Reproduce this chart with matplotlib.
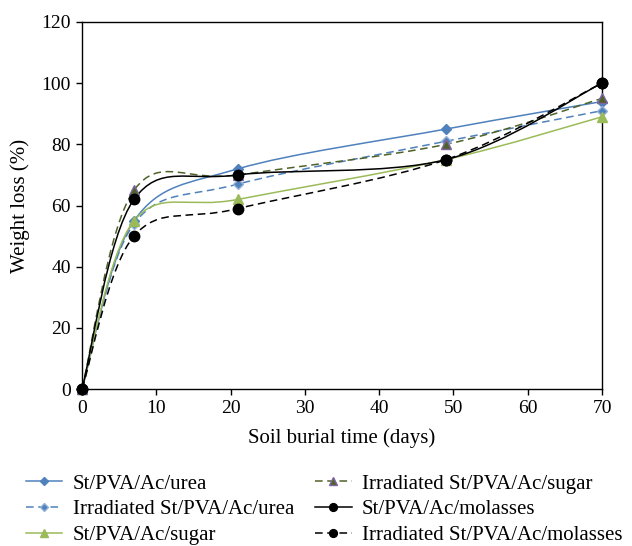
import matplotlib
matplotlib.use("Agg")
import matplotlib.pyplot as plt
from matplotlib.path import Path
from matplotlib.patches import PathPatch
from matplotlib.lines import Line2D

# Data
days = [0, 7, 21, 49, 70]
urea = [0, 55, 72, 85, 94]
irr_urea = [0, 54, 67, 81, 91]
sugar = [0, 55, 62, 75, 89]
irr_sugar = [0, 65, 70, 80, 95]
molasses = [0, 62, 70, 75, 100]
irr_molasses = [0, 50, 59, 75, 100]

labels = [
    "St/PVA/Ac/urea",
    "Irradiated St/PVA/Ac/urea",
    "St/PVA/Ac/sugar",
    "Irradiated St/PVA/Ac/sugar",
    "St/PVA/Ac/molasses",
    "Irradiated St/PVA/Ac/molasses",
]
series = [urea, irr_urea, sugar, irr_sugar, molasses, irr_molasses]

BLUE = "#4F81BD"
GREEN = "#9BBB59"
OLIVE = "#4F6228"
PURPLE = "#8064A2"
DASH = (0, (5, 3))

styles = [
    dict(color=BLUE, ls="-", marker="D", ms=5.5, mfc=BLUE, mec=BLUE),
    dict(color=BLUE, ls=DASH, marker="D", ms=5.5, mfc=BLUE, mec="#95B3D7"),
    dict(color=GREEN, ls="-", marker="^", ms=7.5, mfc=GREEN, mec=GREEN),
    dict(color=OLIVE, ls=DASH, marker="^", ms=7.5, mfc=OLIVE, mec=PURPLE),
    dict(color="black", ls="-", marker="o", ms=7.5, mfc="black", mec="black"),
    dict(color="black", ls=DASH, marker="o", ms=7.5, mfc="black", mec="black"),
]


def smooth_path(xs, ys, k=1 / 6):
    # Excel-style smoothed line: cubic Bezier segments with Catmull-Rom control points
    pts = list(zip(xs, ys))
    n = len(pts)
    verts = [pts[0]]
    codes = [Path.MOVETO]
    for i in range(n - 1):
        p0 = pts[i - 1] if i > 0 else pts[i]
        p1 = pts[i]
        p2 = pts[i + 1]
        p3 = pts[i + 2] if i + 2 < n else pts[i + 1]
        c1 = (p1[0] + (p2[0] - p0[0]) * k, p1[1] + (p2[1] - p0[1]) * k)
        c2 = (p2[0] - (p3[0] - p1[0]) * k, p2[1] - (p3[1] - p1[1]) * k)
        verts += [c1, c2, p2]
        codes += [Path.CURVE4] * 3
    return Path(verts, codes)


plt.rcParams["font.family"] = ["Liberation Serif", "DejaVu Serif"]
plt.rcParams["font.size"] = 13.5

fig = plt.figure(figsize=(6.32, 5.46), dpi=100)
ax = fig.add_axes([82 / 632, 1 - 389 / 546, 520 / 632, 367 / 546])

handles = []
for ys, st, lab in zip(series, styles, labels):
    patch = PathPatch(smooth_path(days, ys), fill=False, edgecolor=st["color"],
                      linestyle=st["ls"], linewidth=1.1, zorder=2)
    ax.add_patch(patch)
    ax.plot(days, ys, ls="none", marker=st["marker"], ms=st["ms"], mfc=st["mfc"],
            mec=st["mec"], mew=1.0, clip_on=False, zorder=3)
    handles.append(Line2D([], [], color=st["color"], ls=st["ls"], lw=1.1,
                          marker=st["marker"], ms=st["ms"] * 0.75, mfc=st["mfc"],
                          mec=st["mec"], label=lab))

ax.set_xlim(0, 70)
ax.set_ylim(0, 120)
ax.set_xticks(range(0, 71, 10))
ax.set_yticks(range(0, 121, 20))
ax.tick_params(direction="out", length=4, width=1.0, pad=4, labelsize=14)
for sp in ax.spines.values():
    sp.set_linewidth(1.0)
ax.set_xlabel("Soil burial time (days)", labelpad=8, fontsize=15)
ax.set_ylabel("Weight loss (%)", labelpad=8, fontsize=15)

fig.legend(handles=handles, ncol=2, frameon=False, loc="upper left",
           bbox_to_anchor=(26 / 632, 1 - 474 / 546), handlelength=1.75,
           handletextpad=0.5, columnspacing=1.0, labelspacing=0.3,
           borderaxespad=0, borderpad=0, fontsize=15)

fig.savefig("out.png", dpi=100)
